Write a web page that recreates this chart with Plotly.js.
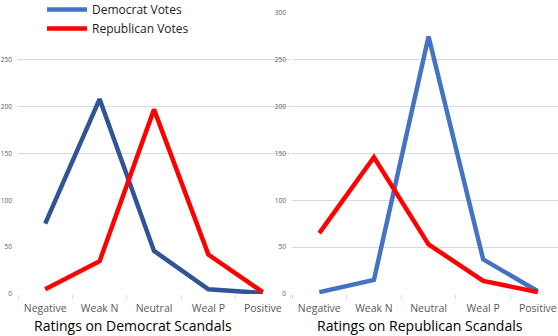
<!DOCTYPE html>
<html>
<head>
<meta charset="utf-8">
<script src="https://cdn.plot.ly/plotly-3.0.1.min.js"></script>
<style>
  html, body { margin: 0; padding: 0; background: #fff; }
  #chart { width: 558px; height: 336px; }
</style>
</head>
<body>
<div id="chart"></div>
<script>
// two panels: votes by rating, for Democrat scandals (left) and Republican scandals (right)
const ratings = ["Negative", "Weak N", "Neutral", "Weal P", "Positive"];

const demOnDemScandals = [75, 208, 46, 5, 1];
const repOnDemScandals = [5, 35, 197, 42, 2];

const demOnRepScandals = [2, 15, 275, 37, 3];
const repOnRepScandals = [65, 146, 53, 14, 2];

const panelTitles = ["Ratings on Democrat Scandals", "Ratings on Republican Scandals"];

const BLUE = "#4472c4", DARK_BLUE = "#2f5597", RED = "#ff0000";

function line(y, color, name, xa, ya, legend) {
  return {
    x: ratings, y, xaxis: xa, yaxis: ya, mode: "lines", name,
    showlegend: legend, hoverinfo: "none",
    line: { color, width: 4.5 },
  };
}

const traces = [
  line(demOnRepScandals, BLUE, "Democrat Votes", "x2", "y2", true),
  line(repOnRepScandals, RED, "Republican Votes", "x2", "y2", true),
  line(demOnDemScandals, DARK_BLUE, "Democrat Votes", "x", "y", false),
  line(repOnDemScandals, RED, "Republican Votes", "x", "y", false),
];

const tickFont = { family: "Open Sans, sans-serif", size: 6.5, color: "#595959" };
const catFont = { family: "Open Sans, sans-serif", size: 10.5, color: "#595959" };
const titleFont = { family: "Open Sans, sans-serif", size: 14, color: "#000" };

function xAxis(domain, range) {
  return {
    domain, range, type: "category", showgrid: false, zeroline: false,
    showline: false, ticks: "outside", tickson: "boundaries", ticklen: 4,
    tickcolor: "#d9d9d9", tickfont: catFont, ticklabelstandoff: 6,
    fixedrange: true,
  };
}
function yAxis(domain, range, xa) {
  return {
    domain, range, anchor: xa, dtick: 50, showgrid: true, gridcolor: "#d9d9d9",
    gridwidth: 1, zeroline: false, showline: false, ticks: "", tickfont: tickFont,
    ticklabelstandoff: 5, fixedrange: true,
  };
}

const layout = {
  width: 558, height: 336,
  margin: { l: 0, r: 0, t: 13, b: 42, autoexpand: false },
  paper_bgcolor: "#fff", plot_bgcolor: "#fff",
  font: { family: "Open Sans, sans-serif" },
  showlegend: true,
  legend: {
    x: 42 / 558, y: 1 + 18 / 281, xanchor: "left", yanchor: "top",
    font: { family: "Open Sans, sans-serif", size: 12, color: "#222" },
    itemwidth: 40, tracegroupgap: 0, bgcolor: "rgba(0,0,0,0)",
  },
  xaxis: xAxis([18 / 558, 290 / 558], [-0.5, 4.5]),
  yaxis: Object.assign(yAxis([0, 0.967], [0, 290], "x"), { showgrid: false }),
  // left panel only shows the upper gridlines
  yaxis3: {
    domain: [0, 0.967], range: [0, 290], anchor: "x", overlaying: "y",
    tickvals: [150, 200, 250], showticklabels: false, showgrid: true,
    gridcolor: "#d9d9d9", zeroline: false, fixedrange: true,
  },
  xaxis2: xAxis([292 / 558, 1], [-0.5, 4.37]),
  yaxis2: yAxis([0, 1], [0, 300], "x2"),
  annotations: panelTitles.map((t, i) => ({
    text: t, xref: "paper", yref: "paper", x: [133, 420][i] / 558, y: -31 / 281,
    xanchor: "center", yanchor: "middle", showarrow: false, font: titleFont,
  })),
};

// dummy trace so the gridline-only axis gets drawn
traces.push({ x: [ratings[0]], y: [0], xaxis: "x", yaxis: "y3", mode: "none",
  showlegend: false, hoverinfo: "none" });

Plotly.newPlot("chart", traces, layout, { displayModeBar: false, staticPlot: true });
</script>
</body>
</html>
